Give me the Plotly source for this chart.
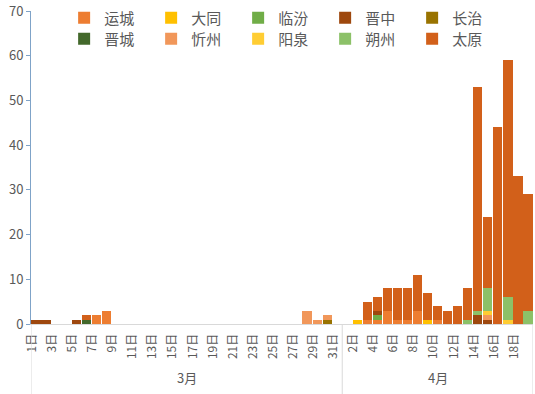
import plotly.graph_objects as go

# Categories: March 1-31, April 1-19
months = ["3月"] * 31 + ["4月"] * 19
days = [f"{d}日" for d in range(1, 32)] + [f"{d}日" for d in range(1, 20)]

def series(entries):
    vals = [0] * 50
    for m, d, v in entries:
        idx = (d - 1) if m == 3 else (30 + d)
        vals[idx] = v
    return vals

yuncheng = series([(3, 7, 2), (3, 8, 3), (4, 3, 1), (4, 4, 1), (4, 5, 3), (4, 6, 1), (4, 7, 1), (4, 8, 3), (4, 10, 1)])
datong = series([(4, 2, 1), (4, 9, 1)])
linfen = series([(4, 4, 1)])
jinzhong = series([(3, 1, 1), (3, 2, 1), (3, 5, 1), (4, 4, 1), (4, 14, 2), (4, 15, 1)])
changzhi = series([(3, 30, 1)])
jincheng = series([(3, 6, 1)])
xinzhou = series([(3, 28, 3), (3, 29, 1), (3, 30, 1), (4, 15, 1)])
yangquan = series([(4, 15, 1), (4, 17, 1)])
shuozhou = series([(4, 13, 1), (4, 14, 1), (4, 15, 5), (4, 17, 5), (4, 19, 3)])
taiyuan = series([(3, 6, 1), (4, 3, 4), (4, 4, 3), (4, 5, 5), (4, 6, 7), (4, 7, 7), (4, 8, 8),
                  (4, 9, 6), (4, 10, 3), (4, 11, 3), (4, 12, 4), (4, 13, 7), (4, 14, 50),
                  (4, 15, 16), (4, 16, 44), (4, 17, 53), (4, 18, 33), (4, 19, 26)])

names = ["运城", "大同", "临汾", "晋中", "长治", "晋城", "忻州", "阳泉", "朔州", "太原"]
values = [yuncheng, datong, linfen, jinzhong, changzhi, jincheng, xinzhou, yangquan, shuozhou, taiyuan]
colors = ["#ED7D31", "#FFC000", "#70AD47", "#9E480E", "#997300",
          "#43682B", "#F1975A", "#FFCD33", "#8CC168", "#D2601A"]

FONT = "Noto Sans CJK SC"
x = list(range(len(days)))

fig = go.Figure()
for i, (n, v, c) in enumerate(zip(names, values, colors)):
    fig.add_trace(go.Bar(x=x, y=v, name=n, marker=dict(color=c, line=dict(width=0)),
                         legend="legend" if i < 5 else "legend2"))

label_idx = [i for i in x if i % 2 == 0]
tickvals = [i - 0.4 for i in label_idx]
ticktext = [days[i] for i in label_idx]

# group dividers and month labels
n_mar = months.count("3月")
bounds = [-0.5, n_mar - 0.5, len(days) - 0.5]
for b in bounds:
    fig.add_shape(type="line", xref="x", yref="paper", x0=b, x1=b, y0=0, y1=-0.225,
                  line=dict(color="#D9D9D9", width=1))
fig.add_annotation(x=(bounds[0] + bounds[1]) / 2, y=-0.208, xref="x", yref="paper", text="3月",
                   showarrow=False, font=dict(family=FONT, size=13, color="#595959"))
fig.add_annotation(x=(bounds[1] + bounds[2]) / 2, y=-0.208, xref="x", yref="paper", text="4月",
                   showarrow=False, font=dict(family=FONT, size=13, color="#595959"))

legend_common = dict(orientation="h", font=dict(family=FONT, size=15, color="#595959"),
                     bgcolor="rgba(0,0,0,0)", entrywidth=42, entrywidthmode="pixels",
                     xanchor="left", yanchor="top", itemclick=False, traceorder="normal")

fig.update_layout(
    width=535, height=394,
    margin=dict(l=31, r=2, t=11, b=70),
    plot_bgcolor="white", paper_bgcolor="white",
    barmode="stack", bargap=0.08,
    font=dict(family=FONT, color="#595959"),
    legend=dict(x=0.066, y=1.03, **legend_common),
    legend2=dict(x=0.066, y=0.963, **legend_common),
    xaxis=dict(range=[-0.5, len(days) - 0.5], tickmode="array", tickvals=tickvals, ticktext=ticktext,
               tickangle=-90, tickfont=dict(family=FONT, size=12, color="#595959"),
               showline=True, linecolor="#D9D9D9", linewidth=1, ticks="", showgrid=False,
               zeroline=False, ticklabelstandoff=4, automargin=False),
    yaxis=dict(range=[0, 70], dtick=10, showgrid=False, zeroline=False,
               showline=True, linecolor="#7FA3C8", linewidth=1,
               ticks="outside", ticklen=4, tickcolor="#7FA3C8", automargin=False,
               tickfont=dict(family=FONT, size=13, color="#595959")),
)

fig.write_html("out.html", config={"displayModeBar": False},
               post_script="document.body.style.margin='0px';")
